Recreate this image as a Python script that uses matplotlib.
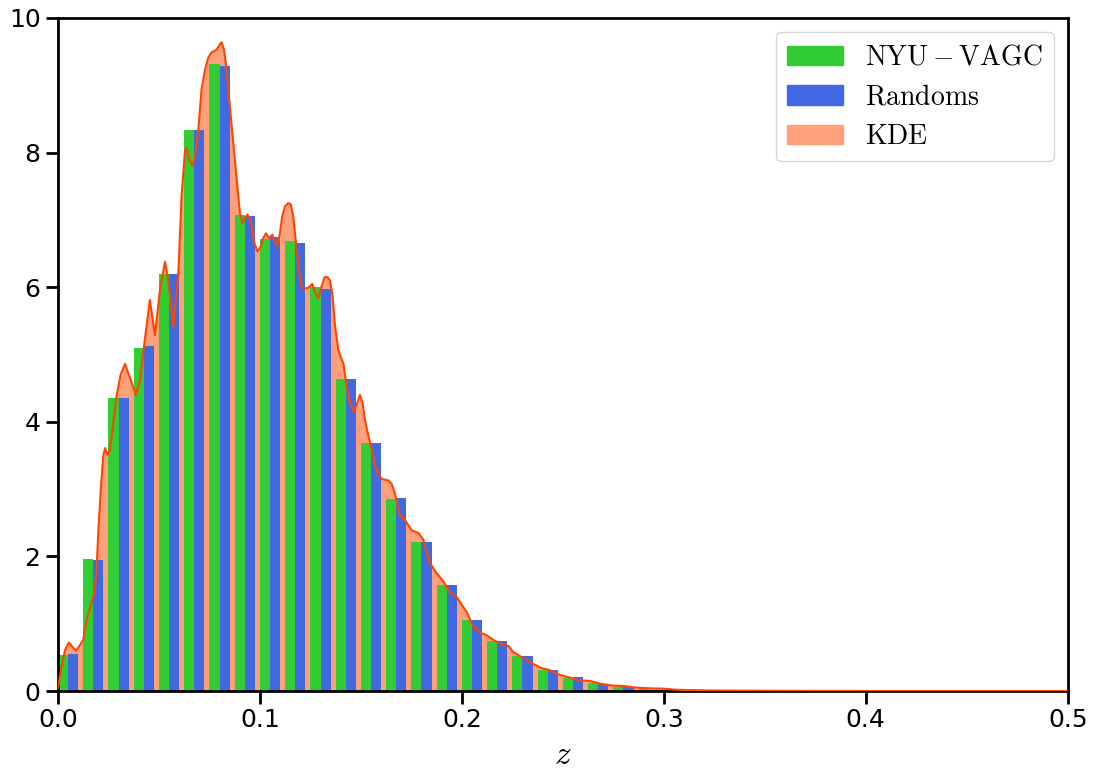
import numpy as np
import matplotlib
matplotlib.use("Agg")
import matplotlib.pyplot as plt
from matplotlib.patches import Patch

# histogram: bin width 0.0125 starting at z=0
bin_width = 0.0125
nyu_heights = [0.54, 1.96, 4.36, 5.09, 6.19, 8.34, 9.32, 7.08, 6.72, 6.68,
               6.01, 4.64, 3.69, 2.85, 2.22, 1.58, 1.06, 0.74, 0.52, 0.31,
               0.20, 0.12, 0.06, 0.03, 0.01]
rand_heights = [0.55, 1.95, 4.36, 5.12, 6.20, 8.34, 9.29, 7.06, 6.75, 6.66,
                5.98, 4.64, 3.69, 2.87, 2.22, 1.58, 1.06, 0.74, 0.52, 0.31,
                0.21, 0.11, 0.06, 0.02, 0.01]

# KDE curve
kde_z = [0.0, 0.0018, 0.0035, 0.0054, 0.0071, 0.0088, 0.0104, 0.0125, 0.0142,
         0.0158, 0.018, 0.0191, 0.0200, 0.0213, 0.0224, 0.0233, 0.0246, 0.0257,
         0.0274, 0.029, 0.031, 0.0332, 0.0348, 0.0365, 0.0386, 0.0406, 0.043,
         0.0455, 0.048, 0.0505, 0.053, 0.0546, 0.0571, 0.0596, 0.0612, 0.0629,
         0.0637, 0.065, 0.0665, 0.0678, 0.0695, 0.0711, 0.0728, 0.0744, 0.0761,
         0.0786, 0.0802, 0.081, 0.0822, 0.0835, 0.0851, 0.0868, 0.0885, 0.0901,
         0.0913, 0.0926, 0.0939, 0.0955, 0.0972, 0.0988, 0.1005, 0.1017, 0.103,
         0.1045, 0.1061, 0.1074, 0.1086, 0.1099, 0.111, 0.1124, 0.114, 0.1153,
         0.1165, 0.1177, 0.119, 0.1206, 0.1219, 0.1239, 0.1259, 0.1272, 0.1289,
         0.1305, 0.132, 0.1335, 0.1347, 0.136, 0.1371, 0.1388, 0.14, 0.1413,
         0.1429, 0.1446, 0.1467, 0.1482, 0.1495, 0.1508, 0.152, 0.1536, 0.1553,
         0.1569, 0.1586, 0.1605, 0.1635, 0.1652, 0.1668, 0.1685, 0.1693, 0.1718,
         0.1751, 0.1784, 0.1809, 0.1842, 0.1875, 0.1908, 0.1941, 0.1974, 0.1999,
         0.2023, 0.2056, 0.2089, 0.2122, 0.2155, 0.2188, 0.223, 0.2254, 0.2287,
         0.232, 0.2361, 0.2395, 0.2436, 0.2485, 0.2535, 0.2584, 0.2634, 0.2683,
         0.2749, 0.2799, 0.2865, 0.293, 0.2995, 0.306, 0.31, 0.32, 0.33, 0.35,
         0.37, 0.40, 0.5]
kde_pdf = [0.05, 0.36, 0.61, 0.72, 0.66, 0.60, 0.66, 0.76, 1.06,
           1.23, 1.46, 1.80, 2.39, 3.04, 3.48, 3.61, 3.51, 3.58,
           3.98, 4.38, 4.70, 4.86, 4.72, 4.58, 4.40, 4.62, 5.22,
           5.81, 5.29, 5.96, 6.38, 6.11, 5.41, 6.21, 7.35, 8.04,
           8.07, 7.90, 7.81, 7.90, 8.34, 8.94, 9.23, 9.41, 9.49,
           9.53, 9.61, 9.64, 9.53, 9.23, 8.69, 8.14, 7.60, 7.10,
           6.95, 7.03, 7.08, 6.98, 6.66, 6.53, 6.61, 6.73, 6.80,
           6.73, 6.78, 6.68, 6.61, 6.80, 7.05, 7.20, 7.25, 7.23,
           7.05, 6.71, 6.31, 6.01, 5.98, 5.99, 6.05, 5.94, 5.84,
           6.01, 6.15, 6.15, 6.10, 5.86, 5.45, 5.07, 4.96, 4.87,
           4.52, 4.28, 4.15, 4.28, 4.40, 4.28, 4.03, 3.80, 3.60,
           3.36, 3.22, 3.15, 3.13, 3.08, 2.94, 2.70, 2.62, 2.54,
           2.39, 2.35, 2.25, 1.90, 1.75, 1.63, 1.46, 1.40, 1.28,
           1.18, 0.96, 0.87, 0.83, 0.76, 0.71, 0.67, 0.58, 0.52,
           0.46, 0.39, 0.34, 0.31, 0.24, 0.20, 0.16, 0.15, 0.11,
           0.08, 0.075, 0.05, 0.04, 0.035, 0.02, 0.015, 0.01, 0.007, 0.004,
           0.002, 0.0, 0.0]

plt.rcParams['mathtext.fontset'] = 'cm'

fig = plt.figure(figsize=(10.94, 7.69), dpi=100)
ax = fig.add_axes([0.053, 0.1014, 0.923, 0.8752])

edges = np.arange(len(nyu_heights)) * bin_width
w = 0.4 * bin_width

ax.fill_between(kde_z, kde_pdf, color='lightsalmon', lw=0, zorder=1)
ax.bar(edges, nyu_heights, width=w, align='edge', color='limegreen', lw=0, zorder=2)
ax.bar(edges + w, rand_heights, width=w, align='edge', color='royalblue', lw=0, zorder=2)
ax.plot(kde_z, kde_pdf, color='orangered', lw=1.5, zorder=3)

ax.set_xlim(0, 0.5)
ax.set_ylim(0, 10)
ax.set_xticks([0.0, 0.1, 0.2, 0.3, 0.4, 0.5])
ax.set_xticklabels(['0.0', '0.1', '0.2', '0.3', '0.4', '0.5'])
ax.set_yticks([0, 2, 4, 6, 8, 10])
ax.tick_params(labelsize=18, length=9, width=2)
for sp in ax.spines.values():
    sp.set_linewidth(2)
ax.set_xlabel('$z$', fontsize=24, labelpad=4)

handles = [Patch(color='limegreen', label=r'$\mathrm{NYU-VAGC}$'),
           Patch(color='royalblue', label=r'$\mathrm{Randoms}$'),
           Patch(color='lightsalmon', label=r'$\mathrm{KDE}$')]
ax.legend(handles=handles, loc='upper right', fontsize=20, handlelength=2.0,
          handleheight=0.7, borderpad=0.4, labelspacing=0.42)

fig.savefig('out.png', dpi=100)
